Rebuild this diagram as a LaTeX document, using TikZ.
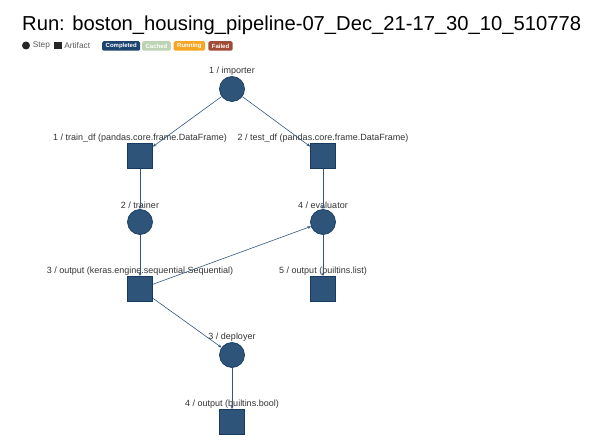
\documentclass[tikz,border=0pt]{standalone}
\usepackage{fontspec}
\setmainfont{Liberation Sans}
\usetikzlibrary{positioning,arrows.meta}

\definecolor{nodefill}{HTML}{2E5479}
\definecolor{nodeline}{HTML}{173B60}
\definecolor{edgeblue}{HTML}{34587C}
\definecolor{completed}{HTML}{1D436F}
\definecolor{cached}{HTML}{BCD4B4}
\definecolor{running}{HTML}{F5A623}
\definecolor{failed}{HTML}{A14A35}

\begin{document}
\begin{tikzpicture} [x=1pt, y=-1pt,
      lbl/.style={font=\fontsize{9}{10}\selectfont, text=black!80, inner sep=0.3pt},
      stepnode/.style={circle, draw=nodeline, fill=nodefill, line width=0.7pt,
        minimum size=25pt, inner sep=0pt, label={[lbl, label distance=0pt]above:#1}},
      artifact/.style={rectangle, draw=nodeline, fill=nodefill, line width=0.7pt,
        minimum size=25pt, inner sep=0pt, label={[lbl, label distance=0pt]above:#1}},
      edge/.style={draw=edgeblue, line width=0.6pt, -{Stealth[length=3.5pt, width=3pt]}},
      badge/.style={fill=#1, text=white, rounded corners=1.5pt, inner xsep=3.5pt,
        minimum height=9.5pt, inner ysep=0pt, font=\fontsize{6}{6}\selectfont\bfseries}]

      \useasboundingbox (0,0) rectangle (600,446);

      % title and legend
      \node[anchor=base west, inner sep=0pt, font=\fontsize{20.2}{22}\selectfont] (title)
        at (22,31) {Run: boston\_housing\_pipeline-07\_Dec\_21-17\_30\_10\_510778};
      \node[circle, fill=black!85, minimum size=8pt, inner sep=0pt] (stepkey) at (26,45.5) {};
      \node[anchor=west, inner sep=0pt, font=\fontsize{8.3}{8}\selectfont, text=black!65,
        right=2.5pt of stepkey] (steptxt) {Step};
      \node[rectangle, fill=black!85, minimum size=7.5pt, inner sep=0pt,
        right=4pt of steptxt] (artkey) {};
      \node[anchor=west, inner sep=0pt, font=\fontsize{8.3}{8}\selectfont, text=black!65,
        right=2pt of artkey] (arttxt) {Artifact};
      \node[badge=completed, anchor=west] (bcompleted) at (102,46) {Completed};
      \node[badge=cached, right=1.5pt of bcompleted] (bcached) {Cached};
      \node[badge=running, right=2.5pt of bcached] (brunning) {Running};
      \node[badge=failed, right=3pt of brunning] (bfailed) {Failed};

      % pipeline
      \node[stepnode={1 / importer}] (importer) at (232,89) {};
      \node[artifact={1 / train\_df (pandas.core.frame.DataFrame)}] (traindf) at (140,156) {};
      \node[artifact={2 / test\_df (pandas.core.frame.DataFrame)}] (testdf) at (323,156) {};
      \node[stepnode={2 / trainer}] (trainer) at (140,222) {};
      \node[stepnode={4 / evaluator}] (evaluator) at (323,222) {};
      \node[artifact={3 / output (keras.engine.sequential.Sequential)}] (model) at (140,289) {};
      \node[artifact={5 / output (builtins.list)}] (evalout) at (323,289) {};
      \node[stepnode={3 / deployer}] (deployer) at (232,355) {};
      \node[artifact={4 / output (builtins.bool)}] (pushed) at (232,422) {};

      \foreach \a/\b in {importer/traindf, importer/testdf, traindf/trainer,
          testdf/evaluator, trainer/model, model/evaluator, evaluator/evalout,
          model/deployer, deployer/pushed} {
        \draw[edge] (\a) -- (\b);
      };
    \end{tikzpicture}
\end{document}
